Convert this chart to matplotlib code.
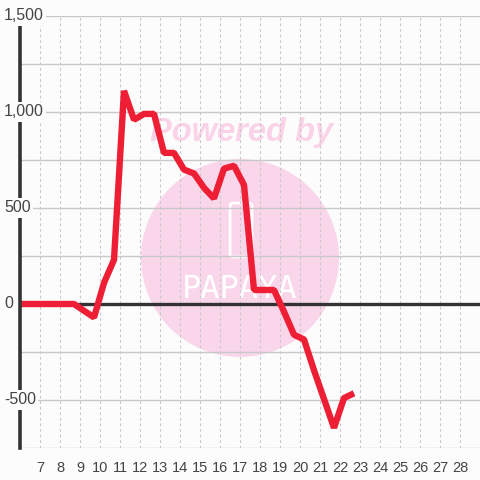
import matplotlib
matplotlib.use("Agg")
import matplotlib.pyplot as plt
from matplotlib.patches import Circle, FancyBboxPatch
import matplotlib.transforms as mtransforms

# ---- data ----
x_vals = [5.7, 6.2, 6.7, 7.2, 7.7, 8.2, 8.7, 9.7, 10.2, 10.7, 11.2, 11.7, 12.2, 12.7,
          13.2, 13.7, 14.2, 14.7, 15.2, 15.7, 16.2, 16.7, 17.2, 17.7, 18.2, 18.7,
          19.2, 19.7, 20.2, 20.7, 21.2, 21.7, 22.2, 22.7]
y_vals = [0, 0, 0, 0, 0, 0, 0, -70, 110, 230, 1110, 960, 990, 990,
          787, 787, 700, 680, 605, 550, 705, 720, 620, 73, 73, 73,
          -40, -160, -185, -345, -495, -645, -490, -465]
x_ticks = list(range(7, 29))
y_ticks = [1500, 1000, 500, 0, -500]
y_tick_labels = ["1,500", "1,000", "500", "0", "-500"]
y_grid = [-750, -500, -250, 0, 250, 500, 750, 1000, 1250, 1500]

bg = "#fbfcfb"
red = "#ee1f35"
dark = "#333333"
txt = "#444444"

plt.rcParams['font.family'] = ['Liberation Sans', 'DejaVu Sans']

fig = plt.figure(figsize=(4.8, 4.8), dpi=100, facecolor=bg)
ax = fig.add_axes([20 / 480, 32 / 480, 460 / 480, 432 / 480])
ax.set_facecolor(bg)
ax.set_xlim(6, 29)
ax.set_ylim(-750, 1500)

# watermark
fig_tr = fig.transFigure
circ = Circle((240 / 480, 1 - 258 / 480), 99 / 480, transform=fig_tr,
              facecolor="#fad6eb", edgecolor="none", zorder=0.5)
ax.add_artist(circ)
ax.text(242 / 480, 1 - 133 / 480, "Powered by", transform=fig_tr, ha="center",
        va="center", fontsize=23.5, fontweight="bold", fontstyle="italic",
        color="#fbd3e9", zorder=0.6)
phone = FancyBboxPatch((231 / 480, 1 - 256 / 480), 20 / 480, 52 / 480,
                       boxstyle="round,pad=0.002,rounding_size=0.006", transform=fig_tr,
                       facecolor="none", edgecolor="white", linewidth=2, zorder=0.7)
ax.add_artist(phone)
ax.text(240 / 480, 1 - 290 / 480, "PAPAYA", transform=fig_tr, ha="center", va="center",
        fontsize=23, color="white", family="DejaVu Sans Mono", zorder=0.7)

# grid
for g in y_grid:
    ax.axhline(g, color="#c8c8c8", linewidth=1, zorder=1)
for xt in x_ticks:
    ax.axvline(xt, color="#c8c8c8", linewidth=0.8, linestyle=(0, (2.5, 2.5)), zorder=1)

# zero line
ax.axhline(0, color=dark, linewidth=2.4, zorder=2)

# data line
ax.plot(x_vals, y_vals, color=red, linewidth=4.6, solid_joinstyle="bevel",
        solid_capstyle="butt", zorder=3, clip_on=True)

# spines
for s in ["top", "right", "bottom"]:
    ax.spines[s].set_visible(False)
ax.spines["left"].set_color(dark)
ax.spines["left"].set_linewidth(2.6)
ax.spines["left"].set_bounds(-750, 1458)
ax.spines["left"].set_zorder(4)

# x ticks
ax.set_xticks(x_ticks)
ax.set_xticklabels([str(t) for t in x_ticks])
ax.tick_params(axis="x", length=0, pad=9, labelsize=10.5, labelcolor=txt)
ax.set_yticks([])

# y tick labels (drawn over the spine with background)
tr = mtransforms.blended_transform_factory(fig.transFigure, ax.transData)
for v, lab in zip(y_ticks, y_tick_labels):
    ax.text(4 / 480, v, lab, transform=tr, ha="left", va="center", fontsize=11.5,
            color=txt, zorder=5, clip_on=False,
            bbox=dict(facecolor=bg, edgecolor="none", pad=1.5))

fig.savefig("out.png", dpi=100, facecolor=bg)
